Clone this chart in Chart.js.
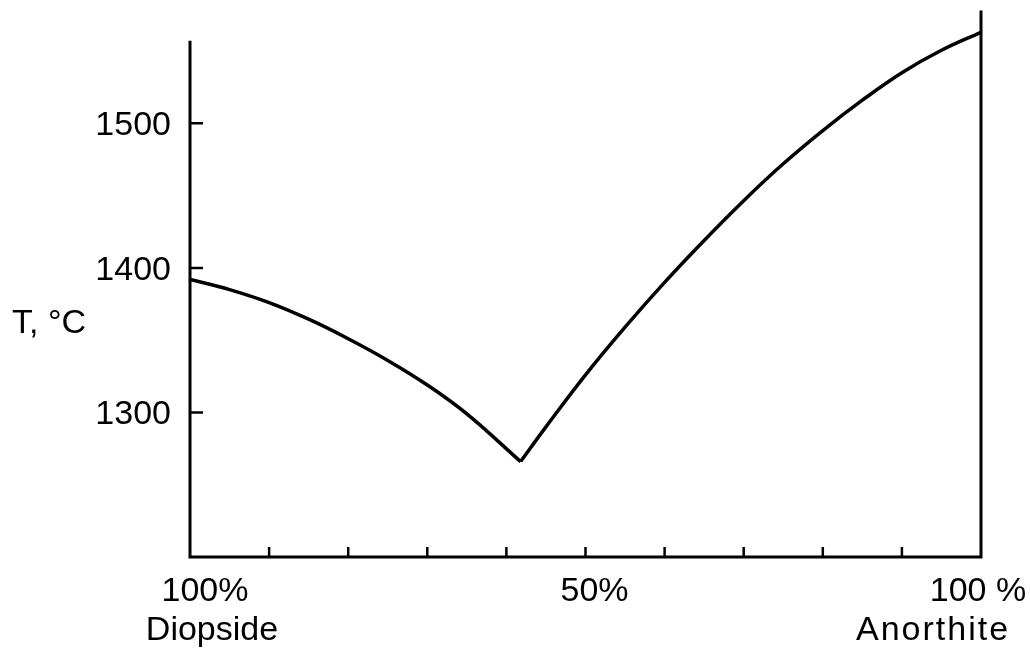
<!DOCTYPE html>
<html>
<head>
<meta charset="utf-8">
<script src="https://cdn.jsdelivr.net/npm/chart.js@4"></script>
<style>
  html, body { margin: 0; padding: 0; background: #fff; }
  #wrap { width: 1030px; height: 653px; position: relative; }
</style>
</head>
<body>
<div id="wrap"><canvas id="c" width="1030" height="653"></canvas></div>
<script>
// ---- data ----
const diopsideBranchX = [0, 5, 10, 15, 20, 25, 30, 35, 41.8];                   // % Anorthite
const diopsideBranchT = [1392, 1385, 1376, 1364.5, 1351, 1336, 1319, 1299, 1266]; // °C
const anorthiteBranchX = [41.8, 45, 50, 55, 60, 65, 70, 75, 80, 85, 90, 95, 100];
const anorthiteBranchT = [1266, 1290, 1326, 1359, 1390, 1419, 1446.5, 1472, 1495, 1516, 1535, 1550.5, 1563];
const yTickValues = [1300, 1400, 1500];
const xMinorTicks = [10, 20, 30, 40, 50, 60, 70, 80, 90];
const xLabelValues = [0, 50, 100];
const xLabelTexts = ['100%', '50%', '100 %'];
const xEndNames = ['Diopside', '', 'Anorthite'];
const yAxisTitle = 'T, °C';
const yMin = 1200, yMax = 1577, leftAxisTop = 1556;

const FONT = '"Liberation Sans", Arial, sans-serif';

function pts(xs, ys) { return xs.map((x, i) => ({ x: x, y: ys[i] })); }

const axesPlugin = {
  id: 'axesPlugin',
  afterDraw(chart) {
    const ctx = chart.ctx;
    const xs = chart.scales.x, ys = chart.scales.y;
    const x0 = xs.getPixelForValue(0), x1 = xs.getPixelForValue(100);
    const yb = ys.getPixelForValue(yMin);
    ctx.save();
    ctx.strokeStyle = '#000';
    ctx.lineWidth = 3;
    ctx.lineCap = 'square';
    ctx.beginPath();
    ctx.moveTo(x0, ys.getPixelForValue(leftAxisTop));
    ctx.lineTo(x0, yb);
    ctx.lineTo(x1, yb);
    ctx.lineTo(x1, ys.getPixelForValue(yMax));
    ctx.stroke();
    ctx.lineWidth = 2.5;
    ctx.lineCap = 'butt';
    ctx.beginPath();
    yTickValues.forEach(v => {
      const py = ys.getPixelForValue(v);
      ctx.moveTo(x0, py); ctx.lineTo(x0 + 13, py);
    });
    xMinorTicks.forEach(v => {
      const px = xs.getPixelForValue(v);
      ctx.moveTo(px, yb); ctx.lineTo(px, yb - 10);
    });
    ctx.stroke();
    ctx.fillStyle = '#000';
    ctx.font = '34px ' + FONT;
    ctx.textBaseline = 'alphabetic';
    ctx.textAlign = 'right';
    yTickValues.forEach(v => {
      ctx.fillText(String(v), x0 - 19, ys.getPixelForValue(v) + 12);
    });
    ctx.textAlign = 'left';
    ctx.fillText(yAxisTitle, 12, ys.getPixelForValue(1400) + 65);
    const labelShift = [15, 9, -3];
    const nameShift = [22, 0, -48];
    ctx.textAlign = 'center';
    xLabelValues.forEach((v, i) => {
      const px = xs.getPixelForValue(v);
      ctx.letterSpacing = '0px';
      ctx.fillText(xLabelTexts[i], px + labelShift[i], yb + 44);
      if (xEndNames[i]) {
        ctx.letterSpacing = i === 2 ? '2px' : '0px';
        ctx.fillText(xEndNames[i], px + nameShift[i], yb + 83);
      }
    });
    ctx.restore();
  }
};

new Chart(document.getElementById('c'), {
  type: 'line',
  data: {
    datasets: [
      {
        data: pts(diopsideBranchX, diopsideBranchT),
        borderColor: '#000', borderWidth: 3.5, pointRadius: 0,
        tension: 0.4, fill: false
      },
      {
        data: pts(anorthiteBranchX, anorthiteBranchT),
        borderColor: '#000', borderWidth: 3.5, pointRadius: 0,
        tension: 0.4, fill: false
      }
    ]
  },
  options: {
    responsive: false,
    animation: false,
    events: [],
    layout: { padding: { left: 190, right: 49, top: 12, bottom: 96 } },
    plugins: { legend: { display: false }, tooltip: { enabled: false } },
    scales: {
      x: { type: 'linear', min: 0, max: 100, display: false },
      y: { type: 'linear', min: yMin, max: yMax, display: false }
    }
  },
  plugins: [axesPlugin]
});
</script>
</body>
</html>
